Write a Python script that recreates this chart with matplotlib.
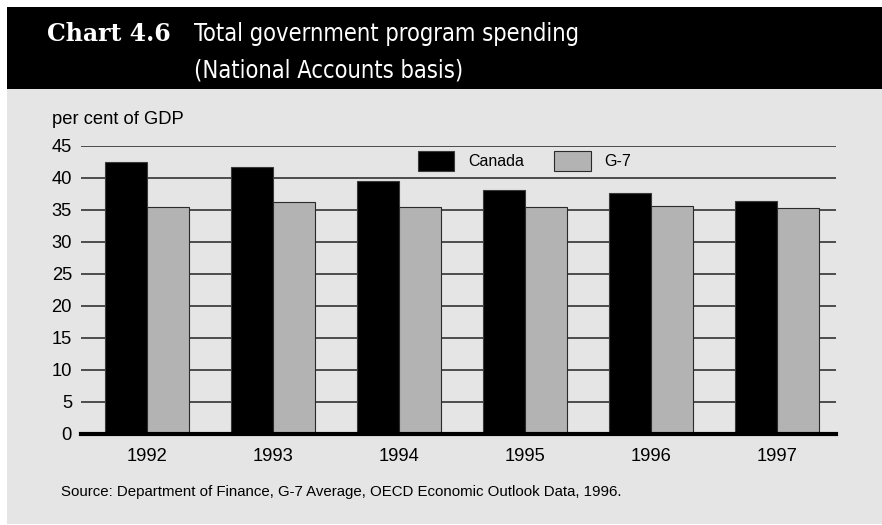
import matplotlib
matplotlib.use("Agg")
import matplotlib.pyplot as plt
import numpy as np
from matplotlib.patches import Rectangle

years = ["1992", "1993", "1994", "1995", "1996", "1997"]
canada = [42.4, 41.6, 39.5, 38.1, 37.6, 36.4]
g7 = [35.5, 36.2, 35.5, 35.5, 35.6, 35.3]
yticks = [0, 5, 10, 15, 20, 25, 30, 35, 40, 45]

W, H = 882, 525
fig = plt.figure(figsize=(W / 100, H / 100), dpi=100)
fig.patch.set_facecolor("white")

def fx(px):
    return px / W

def fy(py):
    return 1 - py / H

# header band and panel background
fig.add_artist(Rectangle((fx(7), fy(89)), 1 - fx(7), fy(7) - fy(89),
                         transform=fig.transFigure, facecolor="black",
                         edgecolor="none", zorder=0))
fig.add_artist(Rectangle((fx(7), fy(524)), 1 - fx(7), fy(89) - fy(524),
                         transform=fig.transFigure, facecolor="#e5e5e5",
                         edgecolor="none", zorder=0))

fig.text(fx(47), fy(41), "Chart 4.6", color="white", fontsize=17,
         fontweight="bold", family=["DejaVu Serif"], va="baseline", ha="left")
sans_c = ["DejaVu Sans"]
fig.text(fx(194), fy(41), "Total government program spending", color="white",
         fontsize=17, fontweight="normal", fontstretch="condensed",
         family=sans_c, va="baseline", ha="left")
fig.text(fx(194), fy(77), "(National Accounts basis)", color="white",
         fontsize=17, fontweight="normal", fontstretch="condensed",
         family=sans_c, va="baseline", ha="left")

sans = ["Liberation Sans", "DejaVu Sans"]
fig.text(fx(52), fy(124), "per cent of GDP", fontsize=13.2, family=sans,
         va="baseline", ha="left", color="black")
fig.text(fx(61), fy(496),
         "Source: Department of Finance, G-7 Average, OECD Economic Outlook Data, 1996.",
         fontsize=10.8, family=sans, va="baseline", ha="left", color="black")

ax_left, ax_right = 81, 836
ax_top, ax_bot = 145.7, 434
ax = fig.add_axes([fx(ax_left), fy(ax_bot), (ax_right - ax_left) / W,
                   (ax_bot - ax_top) / H])
ax.set_facecolor("none")

x = np.arange(len(years))
w = 1 / 3
b1 = ax.bar(x - w / 2, canada, width=w, color="black", edgecolor="#3a3a3a",
            linewidth=0.8, zorder=3, label="Canada")
b2 = ax.bar(x + w / 2, g7, width=w, color="#b3b3b3", edgecolor="#2a2a2a",
            linewidth=0.8, zorder=3, label="G-7")

ax.set_xlim(-0.524, 5.468)
ax.set_ylim(0, 45)
ax.set_yticks(yticks)
ax.set_yticklabels([str(t) for t in yticks])
ax.set_xticks(x)
ax.set_xticklabels(years)
ax.tick_params(axis="y", length=0, pad=6.5, labelsize=13.2)
ax.tick_params(axis="x", length=0, pad=10, labelsize=13.2)
for lab in ax.get_xticklabels() + ax.get_yticklabels():
    lab.set_family(sans)

ax.yaxis.grid(True, color="#333333", linewidth=1.2, zorder=1)
ax.set_axisbelow(True)
for s in ["top", "right", "left"]:
    ax.spines[s].set_visible(False)
ax.spines["bottom"].set_color("black")
ax.spines["bottom"].set_linewidth(3)
ax.spines["bottom"].set_zorder(4)

leg = ax.legend(handles=[b1, b2], labels=["Canada", "G-7"], ncol=2,
                loc="center left", bbox_to_anchor=(0.446, 0.947),
                frameon=False, borderpad=0, borderaxespad=0,
                handlelength=2.3, handleheight=1.55, handletextpad=0.85,
                columnspacing=1.9, prop={"family": sans, "size": 11.5})
leg.set_zorder(5)

fig.savefig("out.png", dpi=100, facecolor=fig.get_facecolor())
